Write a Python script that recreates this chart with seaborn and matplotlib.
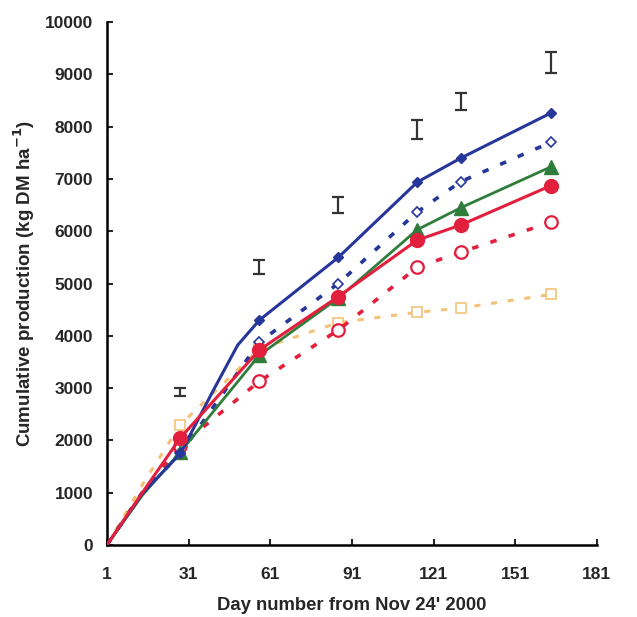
import matplotlib
matplotlib.use("Agg")
import matplotlib.pyplot as plt
import seaborn as sns
import pandas as pd

# ---- data ----
days_blue = [1, 14, 28, 40, 49, 57, 86, 115, 131, 164]
blue_solid = [0, 980, 1750, 2950, 3820, 4300, 5500, 6940, 7400, 8260]

days = [1, 14, 28, 57, 86, 115, 131, 164]
blue_dashed = [0, 1000, 1750, 3880, 5000, 6370, 6950, 7700]
green_solid = [0, 950, 1780, 3630, 4720, 6030, 6450, 7230]
red_solid = [0, 1000, 2050, 3730, 4750, 5830, 6120, 6870]
red_dashed = [0, 1000, 1900, 3130, 4110, 5310, 5600, 6170]
orange_dashed = [0, 1150, 2300, 3750, 4250, 4450, 4530, 4790]

lsd_days = [28, 57, 86, 115, 131, 164]
lsd_center = [2925, 5315, 6500, 7945, 8480, 9225]
lsd_half = [75, 135, 150, 185, 160, 205]

x_ticks = [1, 31, 61, 91, 121, 151, 181]
y_ticks = [0, 1000, 2000, 3000, 4000, 5000, 6000, 7000, 8000, 9000, 10000]

sns.set_style("ticks")
plt.rcParams["font.family"] = ["Liberation Sans", "DejaVu Sans"]
plt.rcParams["font.weight"] = "bold"
plt.rcParams["mathtext.default"] = "bf"

fig = plt.figure(figsize=(6.37, 6.17), dpi=100)
ax = fig.add_axes([0.168, 0.117, 0.769, 0.847])

BLUE = "#27369a"
GREEN = "#2f7d3b"
RED = "#e2203e"
ORANGE = "#f3c277"

mark_idx = [2, 3, 4, 5, 6, 7]

def draw(x, y, color, ls, marker, ms, mfc, mew, lw, z, markevery):
    df = pd.DataFrame({"day": x, "val": y})
    sns.lineplot(data=df, x="day", y="val", ax=ax, color=color,
                 linewidth=lw, marker=marker, markersize=ms, markerfacecolor=mfc,
                 markeredgecolor=color, markeredgewidth=mew, markevery=markevery,
                 zorder=z, legend=False)
    ax.lines[-1].set_linestyle(ls)

draw(days, orange_dashed, ORANGE, (0, (2.0, 3.5)), "s", 7, "white", 1.2, 2.2, 2, mark_idx)
draw(days, red_dashed, RED, (0, (1.8, 3.5)), "o", 9, "white", 1.6, 2.6, 3, mark_idx)
draw(days, blue_dashed, BLUE, (0, (1.8, 3.5)), "D", 5.5, "white", 1.2, 2.6, 3, mark_idx)
draw(days, green_solid, GREEN, "-", "^", 10, GREEN, 1, 2.0, 4, mark_idx)
draw(days_blue, blue_solid, BLUE, "-", "D", 5, BLUE, 1, 2.2, 5, [2, 5, 6, 7, 8, 9])
draw(days, red_solid, RED, "-", "o", 10, RED, 1, 2.2, 6, mark_idx)

ax.errorbar(lsd_days, lsd_center, yerr=lsd_half, fmt="none", ecolor="#333333",
            elinewidth=1.6, capsize=4, capthick=1.6, zorder=7)

ax.set_xlim(1, 181)
ax.set_ylim(0, 10000)
ax.set_xticks(x_ticks)
ax.set_yticks(y_ticks)
ax.tick_params(axis="both", direction="in", length=4, width=1.5, labelsize=12.5)
ax.tick_params(axis="y", pad=10)
ax.tick_params(axis="x", pad=16)
for lab in ax.get_xticklabels() + ax.get_yticklabels():
    lab.set_fontweight("bold")
sns.despine(ax=ax)
for s in ["left", "bottom"]:
    ax.spines[s].set_linewidth(1.8)
    ax.spines[s].set_color("black")

ax.set_xlabel("Day number from Nov 24' 2000", fontsize=13.3, fontweight="bold", labelpad=11)
ax.set_ylabel(r"Cumulative production (kg DM ha$^{-1}$)", fontsize=13.5,
              fontweight="bold", labelpad=6)

fig.savefig("out.png", dpi=100)
